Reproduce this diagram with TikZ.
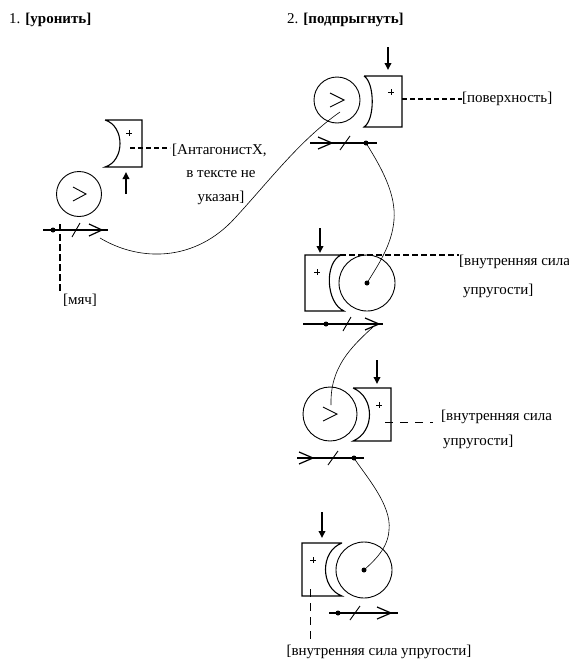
\documentclass[tikz,border=0pt]{standalone}
\usepackage{fontspec}
\setmainfont{Liberation Serif}
\usetikzlibrary{arrows.meta}
\begin{document}
\begin{tikzpicture}[x=1pt,y=-1pt,
  ball/.style={draw,circle,line width=0.9pt,inner sep=0pt},
  sockbox/.style={draw,line width=1.1pt},
  link/.style={line width=0.6pt},
  axisline/.style={line width=1.1pt},
  chev/.style={line width=1.2pt},
  plusmark/.style={line width=0.9pt},
  ddash/.style={line width=1.1pt,dash pattern=on 5pt off 3pt},
  push/.style={line width=1.8pt,-{Triangle[length=7pt,width=6.5pt]}},
  lbl/.style={font=\fontsize{15}{16}\selectfont,inner sep=0pt},
  ttl/.style={font=\fontsize{15}{16}\selectfont,inner sep=0pt,anchor=west},
  dotf/.style={fill,circle,inner sep=0pt,minimum size=5pt},
]
\useasboundingbox (0,0) rectangle (569,664);

% titles
\node[ttl] (t1) at (9,20) {1. \textbf{[уронить]}};
\node[ttl] (t2) at (287,20) {2. \textbf{[подпрыгнуть]}};

% ---------- scene 1 ----------
\node[ball,minimum size=45pt] (b1) at (79,194) {};
\draw[line width=0.9pt] (b1.center) ++(-6,-7) -- ++(13,7) -- ++(-13,7);
\draw[sockbox] (105,120) -- (142,120) -- (142,167) -- (105,167)
  .. controls (125,161) and (125,126) .. (105,120);
\draw[plusmark] (129,130) -- (129,136) (126,133) -- (132,133);
\coordinate (a1s) at (130,148);
\coordinate (a1e) at (170,148);
\draw[ddash] (a1s) -- (a1e);
\node[lbl,anchor=west] (l1a) at (172,150) {[АнтагонистX,};
\node[lbl] (l1b) at (221,174) {в тексте не};
\node[lbl] (l1c) at (221,198) {указан]};
\coordinate (u1s) at (126,194);
\coordinate (u1e) at (126,172);
\draw[push] (u1s) -- (u1e);
% axis line
\coordinate (h1s) at (43,230);
\coordinate (h1e) at (108,230);
\draw[axisline] (h1s) -- (h1e);
\node[dotf] (d1) at (53,230) {};
\draw[line width=0.9pt] (72,237) -- (80,223);
\coordinate (k1) at (102,230);
\draw[chev] (k1) ++(-13,-6) -- (k1) -- ++(-13,6);
\coordinate (m1s) at (60,224);
\coordinate (m1e) at (60,292);
\draw[line width=1.1pt,dash pattern=on 7pt off 3pt] (m1s) -- (m1e);
\node[lbl] (l1m) at (80,300) {[мяч]};

% connector scene 1 -> scene 2a
\coordinate (c1s) at (100,238);
\coordinate (c1e) at (340,112);
\draw[link] (c1s) .. controls (140,262) and (195,262) .. (235,218)
  .. controls (270,180) and (300,140) .. (c1e);

% ---------- scene 2a ----------
\node[ball,minimum size=46pt] (b2a) at (337,100) {};
\draw[line width=0.9pt] (b2a.center) ++(-7,-7) -- ++(14,7) -- ++(-14,7);
\draw[sockbox] (364,76) -- (402,76) -- (402,127) -- (364,127)
  .. controls (375,120) and (375,83) .. (364,76);
\draw[plusmark] (391,89) -- (391,95) (388,92) -- (394,92);
\coordinate (a2s) at (402,99);
\coordinate (a2e) at (462,99);
\draw[ddash] (a2s) -- (a2e);
\node[lbl,anchor=west] (l2a) at (462,99) {[поверхность]};
\coordinate (p2s) at (388,47);
\coordinate (p2e) at (388,70);
\draw[push] (p2s) -- (p2e);
\coordinate (h2s) at (310,143);
\coordinate (h2e) at (377,143);
\draw[axisline] (h2s) -- (h2e);
\coordinate (k2) at (332,143);
\draw[chev] (k2) ++(-14,-6) -- (k2) -- ++(-14,6);
\draw[line width=0.9pt] (340,150) -- (350,136);
\node[dotf] (d2a) at (366,143) {};

% connector 2a -> 2b
\draw[link] (d2a.center) .. controls (383,170) and (396,195) .. (394,220)
  .. controls (392,245) and (378,265) .. (367,283);

% ---------- scene 2b ----------
\node[ball,minimum size=56pt] (b2b) at (367,283) {};
\node[dotf] (d2b) at (b2b.center) {};
\draw[sockbox] (341,255) -- (305,255) -- (305,311) -- (344,311)
  .. controls (326,303) and (324,263) .. (341,255);
\draw[plusmark] (317,269) -- (317,275) (314,272) -- (320,272);
\coordinate (a3s) at (340,255);
\coordinate (a3e) at (459,255);
\draw[line width=1.1pt,dash pattern=on 6pt off 3pt] (a3s) -- (a3e);
\node[lbl,anchor=west] (l3a) at (459,262) {[внутренняя сила};
\node[lbl,anchor=west] (l3b) at (463,291) {упругости]};
\coordinate (p3s) at (320,228);
\coordinate (p3e) at (320,253);
\draw[push] (p3s) -- (p3e);
\coordinate (h3s) at (303,324);
\coordinate (h3e) at (383,324);
\draw[axisline] (h3s) -- (h3e);
\node[dotf] (d3) at (326,324) {};
\draw[line width=0.9pt] (343,331) -- (351,317);
\coordinate (k3) at (379,324);
\draw[chev] (k3) ++(-14,-6) -- (k3) -- ++(-14,6);

% connector 2b -> 2c
\coordinate (c3s) at (373,327);
\coordinate (c3e) at (331,405);
\draw[link] (c3s) .. controls (350,348) and (330,368) .. (c3e);

% ---------- scene 2c ----------
\node[ball,minimum size=54pt] (b2c) at (330,414) {};
\draw[line width=0.9pt] (b2c.center) ++(-7,-7) -- ++(14,7) -- ++(-14,7);
\draw[sockbox] (353,388) -- (391,388) -- (391,441) -- (353,441)
  .. controls (375,432) and (375,397) .. (353,388);
\draw[plusmark] (379,402) -- (379,408) (376,405) -- (382,405);
\coordinate (a4s) at (385,422);
\coordinate (a4e) at (433,422);
\draw[line width=1pt,dash pattern=on 8pt off 7pt] (a4s) -- (a4e);
\node[lbl,anchor=west] (l4a) at (441,417) {[внутренняя сила};
\node[lbl,anchor=west] (l4b) at (443,442) {упругости]};
\coordinate (p4s) at (377,360);
\coordinate (p4e) at (377,384);
\draw[push] (p4s) -- (p4e);
\coordinate (h4s) at (297,458);
\coordinate (h4e) at (364,458);
\draw[axisline] (h4s) -- (h4e);
\coordinate (k4) at (313,458);
\draw[chev] (k4) ++(-14,-6) -- (k4) -- ++(-14,6);
\draw[line width=0.9pt] (328,465) -- (338,451);
\node[dotf] (d2c) at (354,458) {};

% connector 2c -> 2d
\draw[link] (d2c.center) .. controls (365,475) and (392,505) .. (389,530)
  .. controls (388,548) and (375,560) .. (364,570);

% ---------- scene 2d ----------
\node[ball,minimum size=56pt] (b2d) at (364,570) {};
\node[dotf] (d2d) at (b2d.center) {};
\draw[sockbox] (342,543) -- (302,543) -- (302,596) -- (342,596)
  .. controls (320,588) and (320,551) .. (342,543);
\draw[plusmark] (313,557) -- (313,563) (310,560) -- (316,560);
\coordinate (a5s) at (310,589);
\coordinate (a5e) at (310,640);
\draw[line width=1pt,dash pattern=on 8pt off 6pt] (a5s) -- (a5e);
\node[lbl] (l5) at (379,652) {[внутренняя сила упругости]};
\coordinate (p5s) at (322,512);
\coordinate (p5e) at (322,538);
\draw[push] (p5s) -- (p5e);
\coordinate (h5s) at (329,613);
\coordinate (h5e) at (398,613);
\draw[axisline] (h5s) -- (h5e);
\node[dotf] (d5) at (338,613) {};
\draw[line width=0.9pt] (350,620) -- (360,606);
\coordinate (k5) at (391,613);
\draw[chev] (k5) ++(-14,-6) -- (k5) -- ++(-14,6);
\end{tikzpicture}
\end{document}
